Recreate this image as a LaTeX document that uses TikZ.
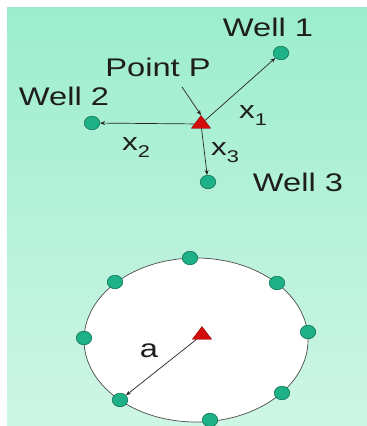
\documentclass[tikz,border=0pt]{standalone}
\usepackage{fontspec}
\setmainfont{Liberation Sans}
\usepackage{graphicx}
\usetikzlibrary{arrows.meta,shapes.geometric}
\definecolor{bgtop}{RGB}{156,237,206}
\definecolor{bgbot}{RGB}{206,246,229}
\definecolor{dotfill}{RGB}{30,176,134}
\definecolor{dotline}{RGB}{18,115,85}
\definecolor{trifill}{RGB}{212,12,12}
\definecolor{triline}{RGB}{140,0,0}
\definecolor{txt}{RGB}{30,30,30}
\newcommand{\wide}[1]{\scalebox{1.28}[1]{#1}}
\newcommand{\sbx}[2]{\wide{#1\raisebox{-0.32em}{\fontsize{17}{17}\selectfont #2}}}
\begin{document}
\begin{tikzpicture}[x=1pt,y=-1pt,
  welldot/.style={ellipse, minimum width=15.5pt, minimum height=13.5pt, inner sep=0pt,
    fill=dotfill, draw=dotline, line width=0.6pt},
  pointtri/.style={regular polygon, regular polygon sides=3, minimum size=17pt,
    inner sep=0pt, xscale=1.3, fill=trifill, draw=triline, line width=0.4pt},
  lbl/.style={text=txt, font=\fontsize{25.5}{25.5}\selectfont, inner sep=0pt, anchor=base},
  sublbl/.style={text=txt, font=\fontsize{24.5}{24.5}\selectfont, inner sep=0pt, anchor=base west},
  arr/.style={-{Stealth[length=5pt,width=4pt]}, line width=0.7pt, draw=black!85}]
\useasboundingbox (0,0) rectangle (367,426);
\fill[white] (0,0) rectangle (367,426);
\fill[top color=bgtop, bottom color=bgbot] (7,7) rectangle (367,426);

% upper part
\node[pointtri] (P) at (201,124) {};
\node[welldot] (W1) at (281,53) {};
\node[welldot] (W2) at (92,123) {};
\node[welldot] (W3) at (208,182) {};
\coordinate (ps) at (182,87);

\draw[arr] (P) -- (W1);
\draw[arr] (P) -- (W2);
\draw[arr] (P) -- (W3);
\draw[arr] (ps) -- (P.north);

\node[lbl] (tW1) at (268,36) {\wide{Well 1}};
\node[lbl] (tP) at (158,76) {\wide{Point P}};
\node[lbl] (tW2) at (64,105) {\wide{Well 2}};
\node[lbl] (tW3) at (298,191) {\wide{Well 3}};
\node[sublbl] (x1) at (239,118) {\sbx{x}{1}};
\node[sublbl] (x2) at (122,150) {\sbx{x}{2}};
\node[sublbl] (x3) at (211,155) {\sbx{x}{3}};

% lower part
\node[ellipse, minimum width=224pt, minimum height=164pt, inner sep=0pt,
  fill=white, draw=black!70, line width=0.7pt] (E) at (196,340) {};
\node[pointtri] (T) at (202,335) {};
\node[welldot] (D1) at (190,258) {};
\node[welldot] (D2) at (115,282) {};
\node[welldot] (D3) at (277,283) {};
\node[welldot] (D4) at (84,338) {};
\node[welldot] (D5) at (308,332) {};
\node[welldot] (D6) at (120,400) {};
\node[welldot] (D7) at (282,393) {};
\node[welldot] (D8) at (210,420) {};
\draw[arr] (T) -- (D6);
\node[lbl] (ta) at (149,357) {\wide{a}};
\end{tikzpicture}
\end{document}
